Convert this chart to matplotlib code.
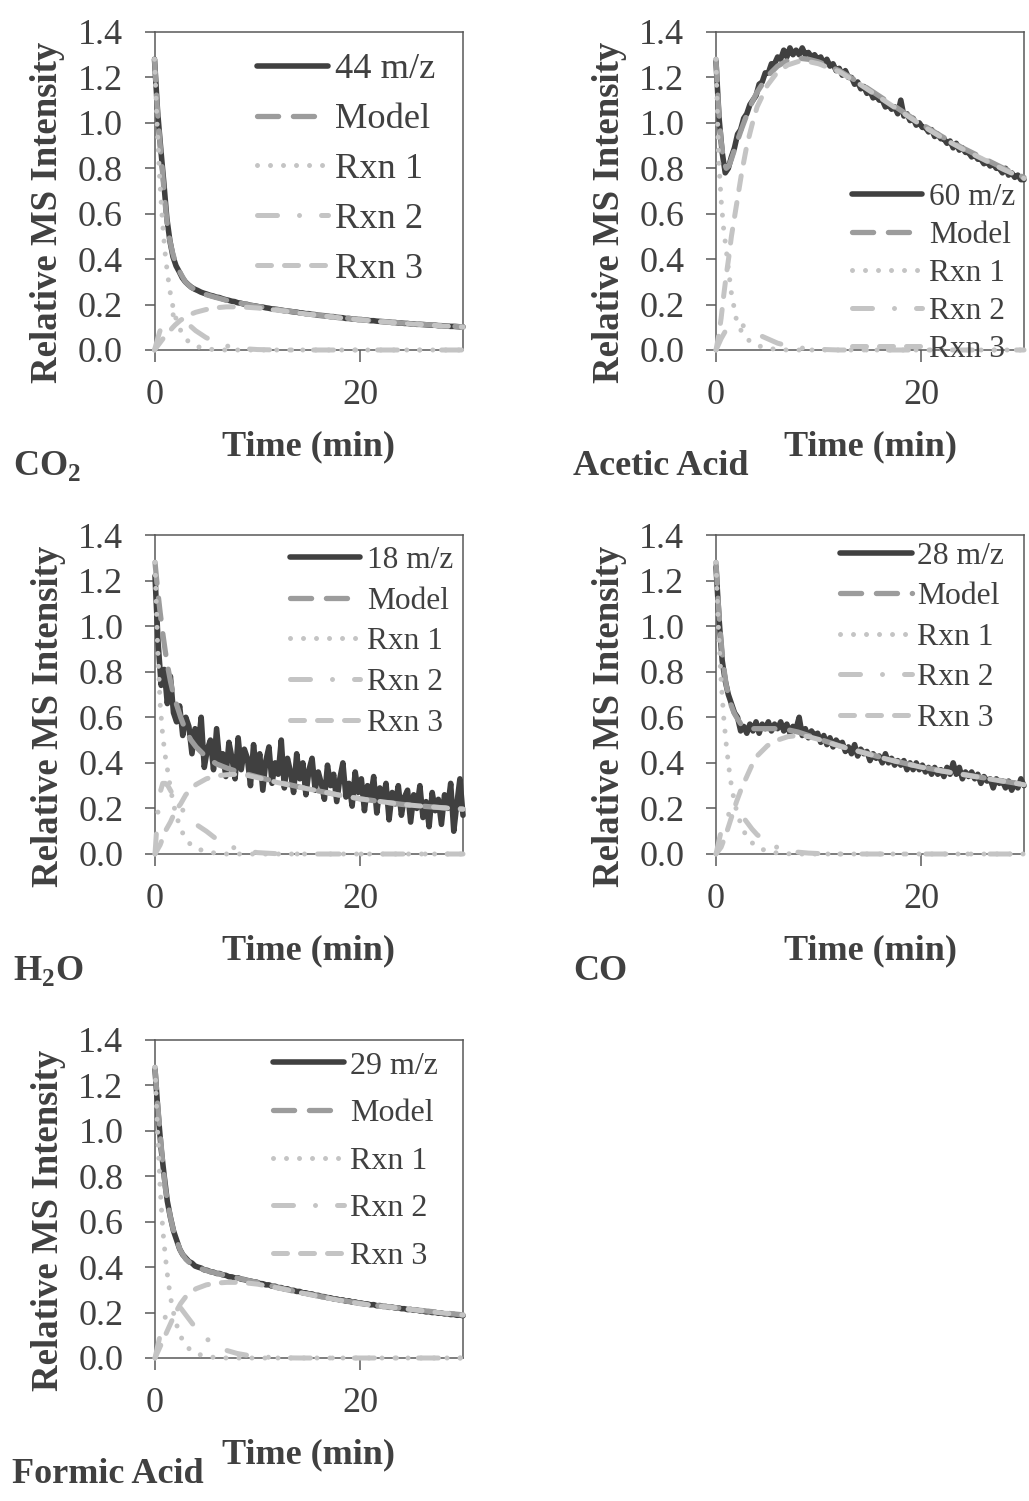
import matplotlib
matplotlib.use('Agg')
import matplotlib.pyplot as plt
import numpy as np

plt.rcParams['font.family'] = ['Liberation Serif', 'DejaVu Serif']
plt.rcParams['mathtext.fontset'] = 'custom'
plt.rcParams['mathtext.rm'] = 'Liberation Serif'
plt.rcParams['mathtext.bf'] = 'Liberation Serif:bold'

TXT = '#404040'
AXC = '#595959'
C_MS = '#404040'
C_MODEL = '#9c9c9c'
C_RXN = '#c4c4c4'

# MS sampling times (min) and fit times (min)
t_ms = np.round(np.arange(101) * 0.3, 1)
t_fit = [0, 0.25, 0.5, 0.75, 1, 1.25, 1.5, 1.75, 2, 2.5, 3, 3.5, 4, 5, 6, 7, 8, 9, 10,
         12, 14, 16, 18, 20, 22, 24, 26, 28, 30]

# ---- CO2 (44 m/z)
co2_ms = [1.28, 1.05, 0.89, 0.74, 0.58, 0.48, 0.41, 0.37, 0.345, 0.318, 0.300, 0.287, 0.276,
          0.268, 0.262, 0.255, 0.250, 0.246, 0.241, 0.238, 0.233,
          0.231, 0.226, 0.222, 0.219, 0.215, 0.213, 0.208, 0.206, 0.202, 0.201, 0.197, 0.195,
          0.193, 0.190, 0.189, 0.186, 0.184, 0.181, 0.180, 0.178, 0.176, 0.173, 0.172, 0.170,
          0.168, 0.167, 0.164, 0.163, 0.160, 0.160, 0.157, 0.156, 0.153, 0.152, 0.151, 0.149,
          0.147, 0.147, 0.144, 0.143, 0.142, 0.139, 0.139, 0.137, 0.136, 0.134, 0.134, 0.132,
          0.131, 0.129, 0.129, 0.127, 0.126, 0.125, 0.124, 0.123, 0.121, 0.121, 0.119, 0.119,
          0.117, 0.117, 0.115, 0.115, 0.113, 0.113, 0.112, 0.111, 0.110, 0.109, 0.109, 0.107,
          0.107, 0.106, 0.105, 0.104, 0.104, 0.103, 0.102, 0.102]
co2_model = [1.28, 1.08, 0.93, 0.80, 0.66, 0.55, 0.48, 0.43, 0.39, 0.34, 0.30, 0.278, 0.264,
             0.244, 0.231, 0.219, 0.209, 0.200, 0.192, 0.178, 0.165, 0.153, 0.143, 0.134,
             0.126, 0.119, 0.113, 0.107, 0.102]
co2_rxn1 = [1.28, 1.0, 0.76, 0.58, 0.44, 0.34, 0.26, 0.2, 0.15, 0.09, 0.05, 0.03, 0.017,
            0.005, 0.001] + [0] * 14
co2_rxn2 = [0, 0.04, 0.08, 0.11, 0.13, 0.145, 0.152, 0.155, 0.155, 0.145, 0.125, 0.105,
            0.085, 0.055, 0.033, 0.018, 0.01, 0.005, 0.002] + [0] * 10
co2_rxn3 = [0, 0.015, 0.03, 0.045, 0.06, 0.073, 0.085, 0.098, 0.11, 0.13, 0.145, 0.157,
            0.166, 0.178, 0.186, 0.19, 0.19, 0.188, 0.185, 0.175, 0.163, 0.152, 0.142,
            0.133, 0.125, 0.118, 0.112, 0.106, 0.101]

# ---- Acetic acid (60 m/z)
aa_ms = [1.27, 1.02, 0.87, 0.78, 0.80, 0.85, 0.89, 0.95, 0.97, 1.02, 1.04, 1.08, 1.10, 1.12,
         1.17, 1.18, 1.22, 1.22, 1.26, 1.26, 1.29, 1.28, 1.32, 1.29, 1.33, 1.30, 1.32, 1.30,
         1.33, 1.30, 1.31, 1.29, 1.30, 1.28, 1.29, 1.26, 1.28, 1.25, 1.26, 1.23, 1.24, 1.21,
         1.23, 1.20, 1.20, 1.17, 1.18, 1.15, 1.16, 1.13, 1.14, 1.11, 1.12, 1.10, 1.10, 1.07,
         1.08, 1.06, 1.07, 1.04, 1.10, 1.03, 1.04, 1.01, 1.02, 0.99, 1.00, 0.98, 0.98, 0.96,
         0.97, 0.94, 0.95, 0.93, 0.93, 0.91, 0.92, 0.89, 0.91, 0.88, 0.89, 0.87, 0.87, 0.85,
         0.86, 0.84, 0.84, 0.82, 0.83, 0.81, 0.82, 0.80, 0.80, 0.78, 0.80, 0.77, 0.78, 0.76,
         0.77, 0.75, 0.75]
aa_model = [1.28, 1.06, 0.92, 0.83, 0.80, 0.81, 0.84, 0.875, 0.91, 0.975, 1.035, 1.09, 1.135,
            1.205, 1.25, 1.275, 1.285, 1.28, 1.268, 1.23, 1.175, 1.115, 1.055, 0.995, 0.94,
            0.89, 0.845, 0.80, 0.76]
aa_rxn1 = [1.28, 0.85, 0.66, 0.53, 0.44, 0.34, 0.25, 0.19, 0.13, 0.08, 0.05, 0.032, 0.02,
           0.008, 0.002] + [0] * 14
aa_rxn2 = [0, 0.025, 0.05, 0.07, 0.09, 0.1, 0.11, 0.113, 0.115, 0.11, 0.1, 0.085, 0.07,
           0.05, 0.03, 0.018, 0.01, 0.006, 0.003] + [0] * 10
aa_rxn3 = [0, 0.06, 0.14, 0.24, 0.33, 0.41, 0.5, 0.57, 0.64, 0.78, 0.9, 0.99, 1.07, 1.165,
           1.225, 1.255, 1.27, 1.27, 1.26, 1.225, 1.17, 1.11, 1.05, 0.99, 0.935, 0.885,
           0.84, 0.795, 0.755]

# ---- H2O (18 m/z)
h2o_ms = [1.22, 0.93, 0.74, 0.81, 0.66, 0.78, 0.62, 0.58, 0.65, 0.52,
          0.60, 0.56, 0.44, 0.55, 0.47, 0.60, 0.38, 0.46, 0.50, 0.37,
          0.55, 0.40, 0.44, 0.34, 0.49, 0.42, 0.33, 0.51, 0.37, 0.46,
          0.42, 0.30, 0.48, 0.35, 0.44, 0.28, 0.41, 0.47, 0.31, 0.40,
          0.35, 0.50, 0.29, 0.42, 0.36, 0.27, 0.44, 0.33, 0.40, 0.26,
          0.37, 0.42, 0.28, 0.36, 0.31, 0.24, 0.39, 0.30, 0.35, 0.23,
          0.33, 0.40, 0.25, 0.31, 0.21, 0.36, 0.27, 0.33, 0.19, 0.30,
          0.25, 0.34, 0.18, 0.29, 0.24, 0.31, 0.15, 0.27, 0.22, 0.30,
          0.17, 0.25, 0.28, 0.14, 0.26, 0.20, 0.30, 0.16, 0.23, 0.12,
          0.27, 0.19, 0.24, 0.13, 0.26, 0.20, 0.31, 0.10, 0.22, 0.33,
          0.17]
h2o_model = [1.28, 1.16, 1.06, 0.97, 0.89, 0.82, 0.76, 0.71, 0.67, 0.60, 0.54, 0.50, 0.47,
             0.425, 0.395, 0.377, 0.362, 0.35, 0.338, 0.315, 0.295, 0.276, 0.258, 0.242,
             0.23, 0.218, 0.21, 0.203, 0.197]
h2o_rxn1 = [1.28, 0.92, 0.66, 0.52, 0.43, 0.36, 0.29, 0.23, 0.18, 0.11, 0.065, 0.04, 0.025,
            0.01, 0.003] + [0] * 14
h2o_rxn2 = [0, 0.17, 0.27, 0.31, 0.31, 0.30, 0.28, 0.26, 0.24, 0.205, 0.175, 0.15, 0.13,
            0.1, 0.065, 0.04, 0.022, 0.012, 0.006, 0.001] + [0] * 9
h2o_rxn3 = [0, 0.02, 0.04, 0.07, 0.1, 0.12, 0.14, 0.165, 0.19, 0.22, 0.26, 0.285, 0.305,
            0.33, 0.343, 0.348, 0.35, 0.345, 0.335, 0.313, 0.294, 0.276, 0.258, 0.242,
            0.23, 0.218, 0.21, 0.203, 0.197]

# ---- CO (28 m/z)
co_ms = [1.26, 1.03, 0.85, 0.76, 0.70, 0.66, 0.62, 0.60, 0.54, 0.56, 0.53, 0.57, 0.54, 0.58,
         0.53, 0.57, 0.55, 0.58, 0.54, 0.57, 0.55, 0.58, 0.54, 0.57, 0.53, 0.56, 0.55, 0.60,
         0.52, 0.55, 0.51, 0.54, 0.52, 0.53, 0.49, 0.52, 0.48, 0.51, 0.47, 0.50, 0.48, 0.49,
         0.45, 0.47, 0.44, 0.48, 0.43, 0.46, 0.44, 0.45, 0.41, 0.44, 0.42, 0.43, 0.40, 0.44,
         0.40, 0.42, 0.39, 0.41, 0.39, 0.41, 0.37, 0.40, 0.37, 0.40, 0.37, 0.39, 0.36, 0.38,
         0.35, 0.38, 0.35, 0.37, 0.34, 0.38, 0.35, 0.40, 0.35, 0.38, 0.33, 0.36, 0.34, 0.36,
         0.33, 0.35, 0.31, 0.34, 0.32, 0.33, 0.29, 0.33, 0.31, 0.32, 0.29, 0.32, 0.28, 0.31,
         0.29, 0.33, 0.30]
co_model = [1.28, 1.08, 0.93, 0.82, 0.74, 0.69, 0.65, 0.62, 0.60, 0.565, 0.555, 0.55, 0.55,
            0.55, 0.55, 0.545, 0.535, 0.52, 0.505, 0.475, 0.45, 0.425, 0.402, 0.382, 0.365,
            0.35, 0.335, 0.32, 0.305]
co_rxn1 = [1.28, 0.98, 0.76, 0.6, 0.48, 0.38, 0.3, 0.24, 0.19, 0.12, 0.075, 0.05, 0.03,
           0.012, 0.004, 0.001] + [0] * 13
co_rxn2 = [0, 0.05, 0.1, 0.135, 0.16, 0.175, 0.185, 0.19, 0.19, 0.17, 0.14, 0.11, 0.085,
           0.05, 0.028, 0.015, 0.008, 0.004, 0.002] + [0] * 10
co_rxn3 = [0, 0.015, 0.03, 0.06, 0.09, 0.125, 0.16, 0.195, 0.23, 0.29, 0.34, 0.39, 0.43,
           0.475, 0.5, 0.515, 0.52, 0.515, 0.503, 0.474, 0.449, 0.424, 0.401, 0.381, 0.364,
           0.349, 0.334, 0.319, 0.304]

# ---- Formic acid (29 m/z)
fa_ms = [1.27, 1.08, 0.92, 0.80, 0.69, 0.62, 0.56, 0.52, 0.48, 0.455, 0.44, 0.425, 0.418,
         0.405, 0.400, 0.396, 0.388, 0.386, 0.380, 0.378, 0.372,
         0.372, 0.366, 0.364, 0.358, 0.357, 0.352, 0.353, 0.347, 0.345, 0.341, 0.339, 0.335,
         0.334, 0.328, 0.327, 0.322, 0.322, 0.316, 0.316, 0.310, 0.310, 0.304, 0.305, 0.298,
         0.298, 0.293, 0.293, 0.287, 0.287, 0.282, 0.282, 0.276, 0.276, 0.271, 0.270, 0.266,
         0.265, 0.260, 0.260, 0.255, 0.256, 0.250, 0.252, 0.246, 0.247, 0.242, 0.242, 0.238,
         0.238, 0.234, 0.235, 0.230, 0.231, 0.227, 0.227, 0.223, 0.224, 0.220, 0.221, 0.217,
         0.217, 0.213, 0.214, 0.210, 0.211, 0.207, 0.207, 0.203, 0.204, 0.200, 0.201, 0.197,
         0.198, 0.194, 0.195, 0.191, 0.192, 0.188, 0.189, 0.186]
fa_model = [1.28, 1.12, 0.99, 0.86, 0.75, 0.68, 0.62, 0.57, 0.53, 0.47, 0.435, 0.415, 0.402,
            0.385, 0.373, 0.362, 0.352, 0.342, 0.332, 0.31, 0.29, 0.272, 0.255, 0.240,
            0.229, 0.219, 0.209, 0.199, 0.19]
fa_rxn1 = [1.28, 1.0, 0.75, 0.57, 0.45, 0.35, 0.27, 0.21, 0.16, 0.095, 0.055, 0.033, 0.02,
           0.006, 0.002] + [0] * 14
fa_rxn2 = [0, 0.05, 0.1, 0.14, 0.18, 0.2, 0.22, 0.228, 0.23, 0.22, 0.19, 0.16, 0.13, 0.085,
           0.055, 0.033, 0.02, 0.012, 0.006, 0.001] + [0] * 9
fa_rxn3 = [0, 0.025, 0.05, 0.075, 0.1, 0.125, 0.15, 0.175, 0.2, 0.24, 0.27, 0.29, 0.305,
           0.322, 0.33, 0.333, 0.333, 0.33, 0.325, 0.308, 0.289, 0.271, 0.254, 0.239,
           0.228, 0.218, 0.208, 0.198, 0.189]

y_ticks = [0.0, 0.2, 0.4, 0.6, 0.8, 1.0, 1.2, 1.4]
x_ticks = [0, 20]

W, H = 1029, 1501
fig = plt.figure(figsize=(W / 100, H / 100), dpi=100)

# rect in pixels: left, top, right, bottom ; legend: left px, top px, fontsize, handlelength, pad, spacing
panels = [
    dict(name=r'CO$_\mathbf{2}$', ion='44 m/z', rect=(154.5, 32, 463, 350),
         ms=co2_ms, model=co2_model, rxn=(co2_rxn1, co2_rxn2, co2_rxn3),
         leg=(257, 53, 26.2, 1.95, 0.19, 0.45), tag=(13, 475)),
    dict(name='Acetic Acid', ion='60 m/z', rect=(716, 32, 1024, 350),
         ms=aa_ms, model=aa_model, rxn=(aa_rxn1, aa_rxn2, aa_rxn3),
         leg=(852, 183, 22.6, 2.23, 0.22, 0.29), tag=(573, 475)),
    dict(name=r'H$_\mathbf{2}$O', ion='18 m/z', rect=(155, 535, 463, 854),
         ms=h2o_ms, model=h2o_model, rxn=(h2o_rxn1, h2o_rxn2, h2o_rxn3),
         leg=(290, 545.7, 22.6, 2.24, 0.21, 0.377), tag=(13, 980)),
    dict(name='CO', ion='28 m/z', rect=(716, 535, 1024, 854),
         ms=co_ms, model=co_model, rxn=(co_rxn1, co_rxn2, co_rxn3),
         leg=(840, 541.5, 22.8, 2.26, 0.18, 0.36), tag=(573, 980)),
    dict(name='Formic Acid', ion='29 m/z', rect=(155, 1040, 463, 1358),
         ms=fa_ms, model=fa_model, rxn=(fa_rxn1, fa_rxn2, fa_rxn3),
         leg=(273.3, 1051.3, 23, 2.2, 0.21, 0.57), tag=(12, 1483)),
]

for p in panels:
    l, t, r, b = p['rect']
    ax = fig.add_axes([l / W, 1 - b / H, (r - l) / W, (b - t) / H])

    h_ms, = ax.plot(t_ms, p['ms'], color=C_MS, lw=4.0, solid_capstyle='round',
                    solid_joinstyle='round', zorder=3, clip_on=False)
    h_mod, = ax.plot(t_fit, p['model'], color=C_MODEL, lw=3.8, linestyle=(0, (4.0, 2.8)),
                     dash_capstyle='round', zorder=4, clip_on=False)
    h_r1, = ax.plot(t_fit, p['rxn'][0], color=C_RXN, lw=3.6, linestyle=(0, (0.001, 2.6)),
                    dash_capstyle='round', zorder=4, clip_on=False)
    h_r2, = ax.plot(t_fit, p['rxn'][1], color=C_RXN, lw=3.6,
                    linestyle=(0, (4.0, 4.4, 0.001, 4.4)),
                    dash_capstyle='round', zorder=4, clip_on=False)
    h_r3, = ax.plot(t_fit, p['rxn'][2], color=C_RXN, lw=3.6, linestyle=(0, (2.8, 2.6)),
                    dash_capstyle='round', zorder=4, clip_on=False)

    ax.set_xlim(0, 30)
    ax.set_ylim(0, 1.4)
    ax.set_xticks(x_ticks)
    ax.set_yticks(y_ticks)
    ax.set_yticklabels(['%.1f' % v for v in y_ticks])
    ax.tick_params(axis='y', direction='out', length=7.2, width=1.1, pad=15.5,
                   labelsize=26, colors=AXC, labelcolor=TXT)
    ax.tick_params(axis='x', direction='out', length=8.4, width=1.1, pad=12.5,
                   labelsize=26, colors=AXC, labelcolor=TXT)
    for s in ax.spines.values():
        s.set_color(AXC)
        s.set_linewidth(1.1)

    ax.set_xlabel('Time (min)', fontsize=26, fontweight='bold', color=TXT)
    ax.xaxis.set_label_coords(0.5, -0.303)
    ax.xaxis.label.set_va('center')
    ax.set_ylabel('Relative MS Intensity', fontsize=26.5, fontweight='bold', color=TXT)
    ax.yaxis.set_label_coords(-0.346, 0.432)
    ax.yaxis.label.set_va('center')

    lx, ly, fs, hl, hp, ls = p['leg']
    leg = ax.legend([h_ms, h_mod, h_r1, h_r2, h_r3],
                    [p['ion'], 'Model', 'Rxn 1', 'Rxn 2', 'Rxn 3'],
                    loc='upper left', bbox_to_anchor=(lx / W, 1 - ly / H),
                    bbox_transform=fig.transFigure, frameon=False, fontsize=fs,
                    handlelength=hl, handletextpad=hp, labelspacing=ls,
                    borderpad=0, borderaxespad=0)
    for txt in leg.get_texts():
        txt.set_color(TXT)

    fig.text(p['tag'][0] / W, 1 - p['tag'][1] / H, p['name'], fontsize=26,
             fontweight='bold', color=TXT, ha='left', va='baseline')

fig.savefig('out.png', dpi=100)
